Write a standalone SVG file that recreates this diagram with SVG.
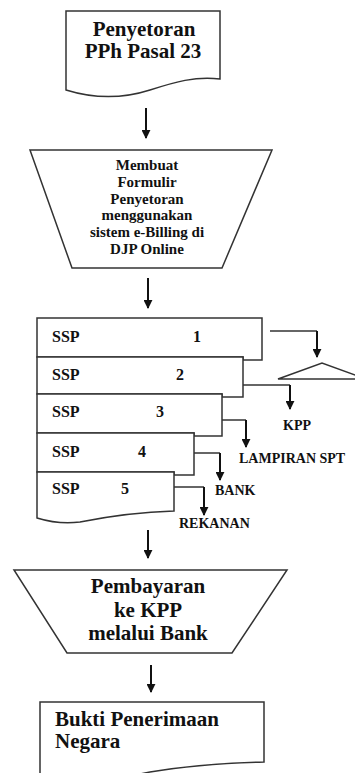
<svg xmlns="http://www.w3.org/2000/svg" width="355" height="773" viewBox="0 0 355 773">
  <style>
    .shape { fill: #fff; stroke: #333; stroke-width: 1.5; }
    .conn { fill: none; stroke: #111; stroke-width: 2; }
    .thin { fill: none; stroke: #333; stroke-width: 1.5; }
    text { font-family: "Liberation Serif", "Times New Roman", serif; font-weight: bold; fill: #111; }
    .big { font-size: 21px; }
    .mid { font-size: 15px; }
    .ssp { font-size: 16px; }
    .lbl { font-size: 14px; }
  </style>
  <defs>
    <marker id="arrow" viewBox="0 0 10 10" refX="9" refY="5" markerWidth="4.5" markerHeight="4.5" markerUnits="strokeWidth" orient="auto">
      <path d="M0,0 L10,5 L0,10 Z" fill="#111"/>
    </marker>
  </defs>

  <!-- start document -->
  <g id="penyetoran">
    <path class="shape" d="M66,11 H220 V79 C195,76 175,82 150,90 C125,98 95,99 66,90 Z"/>
    <text class="big" x="144" y="36" text-anchor="middle">Penyetoran</text>
    <text class="big" x="143" y="58" text-anchor="middle">PPh Pasal 23</text>
  </g>

  <!-- manual operation: create billing form -->
  <g id="membuat-formulir">
    <path class="shape" d="M30,150 H272 L222,268 H72 Z"/>
    <text class="mid" x="147" y="170" text-anchor="middle">Membuat</text>
    <text class="mid" x="147" y="187" text-anchor="middle">Formulir</text>
    <text class="mid" x="147" y="204" text-anchor="middle">Penyetoran</text>
    <text class="mid" x="147" y="220" text-anchor="middle">menggunakan</text>
    <text class="mid" x="147" y="237" text-anchor="middle">sistem e-Billing di</text>
    <text class="mid" x="147" y="254" text-anchor="middle">DJP Online</text>
  </g>

  <!-- multi-copy SSP documents -->
  <g id="ssp-lembar">
    <path class="shape" d="M37,318 H262 V360 H243 V357 H37 Z"/>
    <path class="shape" d="M37,357 H243 V397 H222 V394 H37 Z"/>
    <path class="shape" d="M37,394 H222 V436 H194 V433 H37 Z"/>
    <path class="shape" d="M37,433 H194 V475 H174 V472 H37 Z"/>
    <path class="shape" d="M37,472 H174 V511 C140,512 110,516 80,522 C65,524 50,522 37,518 Z"/>
    <text class="ssp" x="52" y="342">SSP</text>
    <text class="ssp" x="197" y="342" text-anchor="middle">1</text>
    <text class="ssp" x="52" y="380">SSP</text>
    <text class="ssp" x="180" y="380" text-anchor="middle">2</text>
    <text class="ssp" x="52" y="417">SSP</text>
    <text class="ssp" x="160" y="417" text-anchor="middle">3</text>
    <text class="ssp" x="52" y="457">SSP</text>
    <text class="ssp" x="142" y="457" text-anchor="middle">4</text>
    <text class="ssp" x="52" y="494">SSP</text>
    <text class="ssp" x="125" y="494" text-anchor="middle">5</text>
  </g>

  <!-- archive (copy 1) -->
  <g id="arsip">
    <path class="thin" d="M278,379 L322,363 L366,379 Z" fill="#fff"/>
  </g>

  <g id="label-kpp">
    <text class="lbl" x="297" y="430" text-anchor="middle">KPP</text>
  </g>
  <g id="label-lampiran">
    <text class="lbl" x="239" y="463">LAMPIRAN SPT</text>
  </g>
  <g id="label-bank">
    <text class="lbl" x="215" y="495">BANK</text>
  </g>
  <g id="label-rekanan">
    <text class="lbl" x="179" y="528">REKANAN</text>
  </g>

  <!-- manual operation: payment -->
  <g id="pembayaran">
    <path class="shape" d="M14,570 H287 L232,653 H67 Z"/>
    <text class="big" x="148" y="593" text-anchor="middle">Pembayaran</text>
    <text class="big" x="148" y="617" text-anchor="middle">ke KPP</text>
    <text class="big" x="148" y="640" text-anchor="middle">melalui Bank</text>
  </g>

  <!-- receipt document -->
  <g id="bukti-penerimaan">
    <path class="shape" d="M40,702 H264 V762 C225,763 185,766 150,772 C140,774 130,776 120,778 L40,778 Z"/>
    <text class="big" x="55" y="726">Bukti Penerimaan</text>
    <text class="big" x="55" y="748">Negara</text>
  </g>

  <g id="connectors">
    <path class="conn" d="M146,108 V138" marker-end="url(#arrow)"/>
    <path class="conn" d="M148,278 V308" marker-end="url(#arrow)"/>
    <path class="conn" d="M148,530 V558" marker-end="url(#arrow)"/>
    <path class="conn" d="M151,665 V692" marker-end="url(#arrow)"/>
    <path class="thin" d="M270,331 H317"/>
    <path class="conn" d="M317,331 V357" marker-end="url(#arrow)"/>
    <path class="thin" d="M243,385 H290"/>
    <path class="conn" d="M290,385 V409" marker-end="url(#arrow)"/>
    <path class="thin" d="M222,420 H246"/>
    <path class="conn" d="M246,420 V447" marker-end="url(#arrow)"/>
    <path class="thin" d="M194,453 H220"/>
    <path class="conn" d="M220,453 V480" marker-end="url(#arrow)"/>
    <path class="thin" d="M174,487 H204"/>
    <path class="conn" d="M204,487 V515" marker-end="url(#arrow)"/>
  </g>
</svg>
